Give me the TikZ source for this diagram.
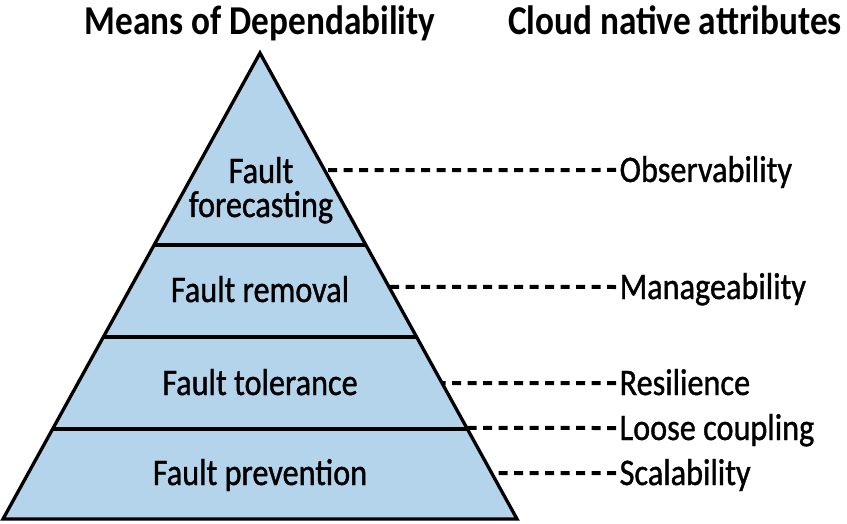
\documentclass[tikz,border=0pt]{standalone}
\usepackage{fontspec}
\setmainfont{Carlito}[FakeStretch=0.86]
\newfontfamily\labfont{Carlito}[FakeStretch=0.86, FakeBold=1]
\usepackage{xcolor}
\usepackage{tikz}
\usetikzlibrary{calc}
\definecolor{layerblue}{HTML}{B3D4EA}

\begin{document}
\begin{tikzpicture}[x=1pt, y=-1pt, line width=3.3pt,
    title/.style={font=\fontsize{41}{44}\selectfont\bfseries, anchor=base, inner sep=0pt},
    layer/.style={font=\labfont\fontsize{37.5}{34}\selectfont, align=center, anchor=base, inner sep=0pt},
    attr/.style={font=\labfont\fontsize{37.5}{40}\selectfont, anchor=west, inner sep=2pt, text height=24pt, text depth=0pt},
    link/.style={line width=4pt, dash pattern=on 9pt off 6.5pt}]
      \useasboundingbox (0,0) rectangle (847,524);

      \node[title] (means) at (260,35){Means of Dependability};
      \node[title] (cloud) at (675,35){Cloud native attributes};

      % pyramid
      \coordinate (top) at (260,53);
      \coordinate (bl) at (3,519);
      \coordinate (br) at (517,519);
      \filldraw[fill=layerblue] (top) -- (bl) -- (br) -- cycle;
      \foreach \t in {0.412, 0.6094, 0.8069}
        \draw ($(top)!\t!(bl)$) -- ($(top)!\t!(br)$);

      \node[layer] (forecast) at (261,217){Fault\\forecasting};
      \node[layer] (removal) at (260,302){Fault removal};
      \node[layer] (tolerance) at (260,395){Fault tolerance};
      \node[layer] (prevention) at (260,485){Fault prevention};

      % attributes
      \node[attr] (obs) at (616,170){Observability};
      \node[attr] (manage) at (616,287){Manageability};
      \node[attr] (resil) at (616,383){Resilience};
      \node[attr] (loose) at (616,428){Loose coupling};
      \node[attr] (scale) at (616,473){Scalability};

      \draw[link] (obs.west) -- ($(top)!0.2511!(br)$);
      \draw[link] (manage.west) -- ($(top)!0.5021!(br)$);
      \draw[link] (resil.west) -- ($(top)!0.7082!(br)$);
      \draw[link] (loose.west) -- ($(top)!0.8047!(br)$);
      \draw[link] (scale.west) -- ($(top)!0.9013!(br)$);
    \end{tikzpicture}
\end{document}
